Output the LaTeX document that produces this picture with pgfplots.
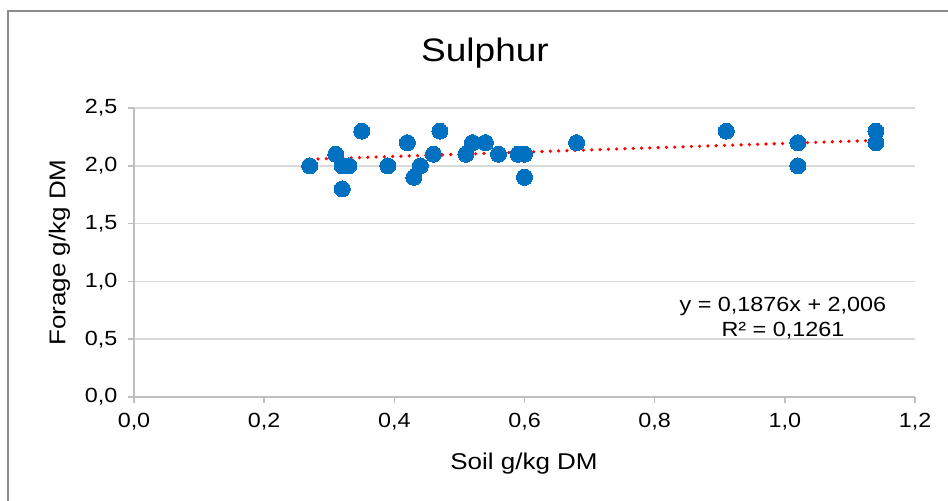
\documentclass[border=0pt]{standalone}
\usepackage{fontspec}
\setmainfont{Liberation Sans}[FakeStretch=1.14]
\usepackage{pgfplots}
\pgfplotsset{compat=1.18}
\definecolor{ptblue}{HTML}{0070C0}
\definecolor{gridgray}{HTML}{D9D9D9}
\definecolor{axgray}{HTML}{BFBFBF}
\definecolor{bordergray}{HTML}{8C8C8C}
\begin{document}
\begin{tikzpicture}[x=1bp,y=1bp]
\useasboundingbox (0,0) rectangle (948,501);
\draw[bordergray, line width=2bp] (7.5,-20) -- (7.5,490) -- (1000,490);
\begin{axis}[
  at={(134bp,104bp)}, anchor=south west,
  scale only axis, width=781bp, height=289bp,
  xmin=0, xmax=1.2, ymin=0, ymax=2.5,
  xtick={0,0.2,...,1.2}, ytick={0,0.5,...,2.5},
  axis x line*=bottom, axis y line*=left,
  axis line style={axgray, line width=1.5bp},
  tick style={axgray, line width=1.5bp},
  tick align=outside, major tick length=6bp,
  ymajorgrids, grid style={gridgray, line width=1.5bp},
  /pgf/number format/assume math mode=true,
  /pgf/number format/use comma,
  /pgf/number format/fixed,
  /pgf/number format/fixed zerofill,
  /pgf/number format/precision=1,
  ticklabel style={font=\fontsize{20.5bp}{24bp}\selectfont},
  yticklabel style={xshift=-7bp},
  xticklabel style={yshift=-6.5bp},
  clip=false,
]
\addplot[only marks, color=ptblue, mark=*, mark size=8bp, mark options={fill=ptblue, draw=ptblue, line width=0pt}] coordinates {
(0.27,2.0) (0.31,2.1) (0.32,1.8) (0.32,2.0) (0.33,2.0) (0.35,2.3)
(0.39,2.0) (0.42,2.2) (0.43,1.9) (0.44,2.0) (0.46,2.1) (0.47,2.3)
(0.51,2.1) (0.52,2.2) (0.54,2.2) (0.56,2.1) (0.59,2.1) (0.60,2.1)
(0.60,1.9) (0.68,2.2) (0.91,2.3) (1.02,2.2) (1.02,2.0) (1.14,2.3)
(1.14,2.2)
};
\addplot[red, line width=3.6bp, line cap=round, dash pattern=on 0bp off 8.3bp] coordinates {(0.27,2.0567) (1.14,2.2199)};
\node[font=\fontsize{20.5bp}{24bp}\selectfont] at (axis cs:0.997,0.78) {y = 0,1876x + 2,006};
\node[font=\fontsize{20.5bp}{24bp}\selectfont] at (axis cs:0.997,0.57) {R² = 0,1261};
\end{axis}
\node[font=\fontsize{32.5bp}{38bp}\selectfont] at (485,448) {Sulphur};
\node[font=\fontsize{22.8bp}{27bp}\selectfont] at (524,37) {Soil g/kg DM};
\node[font=\fontsize{22.8bp}{27bp}\selectfont, rotate=90] at (59.5,248.5) {Forage g/kg DM};
\end{tikzpicture}
\end{document}
